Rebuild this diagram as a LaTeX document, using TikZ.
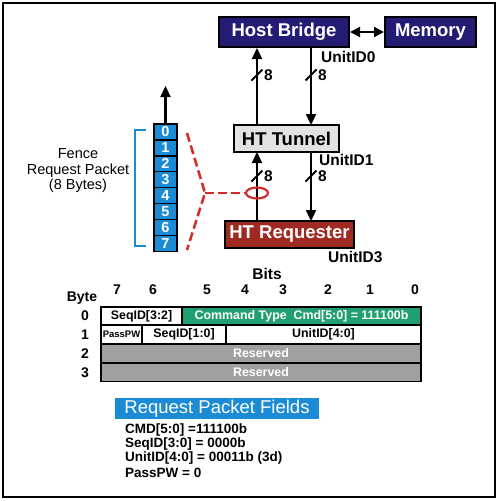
\documentclass[tikz,border=0pt]{standalone}
\usepackage{fontspec}
\setmainfont{Liberation Sans}
\usetikzlibrary{arrows.meta,shapes.geometric}
\definecolor{navy}{HTML}{221C74}
\definecolor{brick}{HTML}{9E2A22}
\definecolor{pktblue}{HTML}{1C8BD6}
\definecolor{cmdgreen}{HTML}{20A070}
\definecolor{resgray}{HTML}{A0A0A0}
\definecolor{dred}{HTML}{D42A2A}
\definecolor{tungray}{HTML}{E2E2E2}
\begin{document}
\begin{tikzpicture}[x=1pt,y=-1pt,
  bigbox/.style={draw=black,line width=2pt,inner sep=0pt,font=\bfseries\fontsize{18.5}{18.5}\selectfont},
  conn/.style={line width=2.3pt,-{Triangle[length=11pt,width=10pt]}},
  lbl/.style={font=\bfseries\fontsize{15.5}{15.5}\selectfont,inner sep=0pt,anchor=west},
  cell/.style={draw=black,line width=1.4pt,fill=pktblue,text=white,minimum width=23pt,minimum height=15.9pt,inner sep=0pt,font=\bfseries\fontsize{14.5}{14.5}\selectfont},
  fld/.style={draw=black,line width=1.4pt,inner sep=0pt,font=\fontsize{12.4}{12.4}\selectfont},
  num/.style={font=\bfseries\fontsize{14}{14}\selectfont,inner sep=0pt},
  info/.style={font=\bfseries\fontsize{13.5}{13.5}\selectfont,inner sep=0pt,anchor=west}
]
\useasboundingbox (0,0) rectangle (500,501);
\draw[line width=2pt] (3,3) rectangle (495,497);

% top boxes
\node[bigbox,fill=navy,text=white,minimum width=130pt,minimum height=30pt] (hb) at (284,32) {Host Bridge};
\node[bigbox,fill=navy,text=white,minimum width=91pt,minimum height=30pt] (mem) at (430.5,32) {Memory};
\node[bigbox,fill=tungray,text=black,minimum width=105pt,minimum height=27pt] (tun) at (286.5,138.5) {HT Tunnel};
\node[bigbox,fill=brick,text=white,minimum width=129pt,minimum height=27pt] (req) at (289.5,234.5) {HT Requester};

\draw[line width=2.3pt,{Triangle[length=10pt,width=10pt]}-{Triangle[length=10pt,width=10pt]}] (hb.east) -- (mem.west);

% vertical links
\coordinate (tunL) at (257,125);
\coordinate (tunR) at (311,152);
\draw[conn] (tunL) -- (tunL |- hb.south);
\draw[conn] (311,47) -- (311,125);
\draw[conn] (257,221) -- (257,152);
\draw[conn] (tunR) -- (311,221);

% slashes
\foreach \x/\y in {257/75,311/75,257/176,311/176}{
  \draw[line width=2pt] (\x-5.5,\y+5.5) -- (\x+5.5,\y-5.5);
  \node[lbl] at (\x+7,\y) {8};
}
\node[lbl] at (321,57) {UnitID0};
\node[lbl] at (319,160) {UnitID1};
\node[lbl] at (328,257) {UnitID3};

% red ellipse and dashed fan
\node[draw=dred,line width=2.2pt,ellipse,minimum width=22pt,minimum height=11pt,inner sep=0pt] (ell) at (257,193) {};
\coordinate (fan) at (205,193);
\coordinate (fanT) at (187,133);
\coordinate (fanB) at (187,250);
\draw[dred,line width=2.5pt,dash pattern=on 9pt off 4pt] (fanT) -- (fan) -- (fanB);
\draw[dred,line width=2.5pt,dash pattern=on 9pt off 4pt] (fan) -- (ell.west);

% packet column
\foreach \i in {0,...,7}{
  \node[cell] (c\i) at (165.5,132+15.9*\i) {\i};
}
\coordinate (pktTop) at (165.5,86);
\draw[conn] (c0.north) -- (pktTop);

% bracket
\draw[pktblue,line width=2.2pt] (146,130) -- (135,130) -- (135,246) -- (146,246);
\node[align=center,font=\fontsize{14.5}{15.5}\selectfont,inner sep=0pt] (fence) at (78,171) {Fence\\Request Packet\\(8 Bytes)};

% bits header
\node[num,font=\bfseries\fontsize{15.5}{15.5}\selectfont] (bits) at (267,274) {Bits};
\foreach \n/\x in {7/117,6/153,5/207,4/245,3/283,2/328,1/370,0/415}{
  \node[num] at (\x,290) {\n};
}
\node[num] (byte) at (82,298) {Byte};
\foreach \n/\y in {0/316,1/335,2/354,3/373}{
  \node[num] at (85,\y) {\n};
}

% table rows
\node[fld,fill=white,minimum width=81pt,minimum height=18pt] (s32) at (141.5,316) {\bfseries SeqID[3:2]};
\node[fld,fill=cmdgreen,text=white,minimum width=239pt,minimum height=18pt] (cmd) at (301.5,316) {\bfseries Command Type\ \ Cmd[5:0] = 111100b};
\node[fld,fill=white,minimum width=41pt,minimum height=19pt,font=\bfseries\fontsize{9.5}{9.5}\selectfont] (ppw) at (121.5,334.5) {PassPW};
\node[fld,fill=white,minimum width=84pt,minimum height=19pt] (s10) at (184,334.5) {\bfseries SeqID[1:0]};
\node[fld,fill=white,minimum width=195pt,minimum height=19pt] (uid) at (323.5,334.5) {\bfseries UnitID[4:0]};
\node[fld,fill=resgray,text=white,minimum width=320pt,minimum height=19pt] (r2) at (261,353.5) {\bfseries Reserved};
\node[fld,fill=resgray,text=white,minimum width=320pt,minimum height=18pt] (r3) at (261,372.5) {\bfseries Reserved};

% fields summary
\node[fill=pktblue,text=white,minimum width=204pt,minimum height=21pt,inner sep=0pt,font=\fontsize{18.5}{18.5}\selectfont] (rpf) at (217,408.5) {Request Packet Fields};
\node[info] at (125,430) {CMD[5:0] =111100b};
\node[info] at (125,444) {SeqID[3:0] = 0000b};
\node[info] at (125,458) {UnitID[4:0] = 00011b (3d)};
\node[info] at (125,473) {PassPW = 0};
\end{tikzpicture}
\end{document}
